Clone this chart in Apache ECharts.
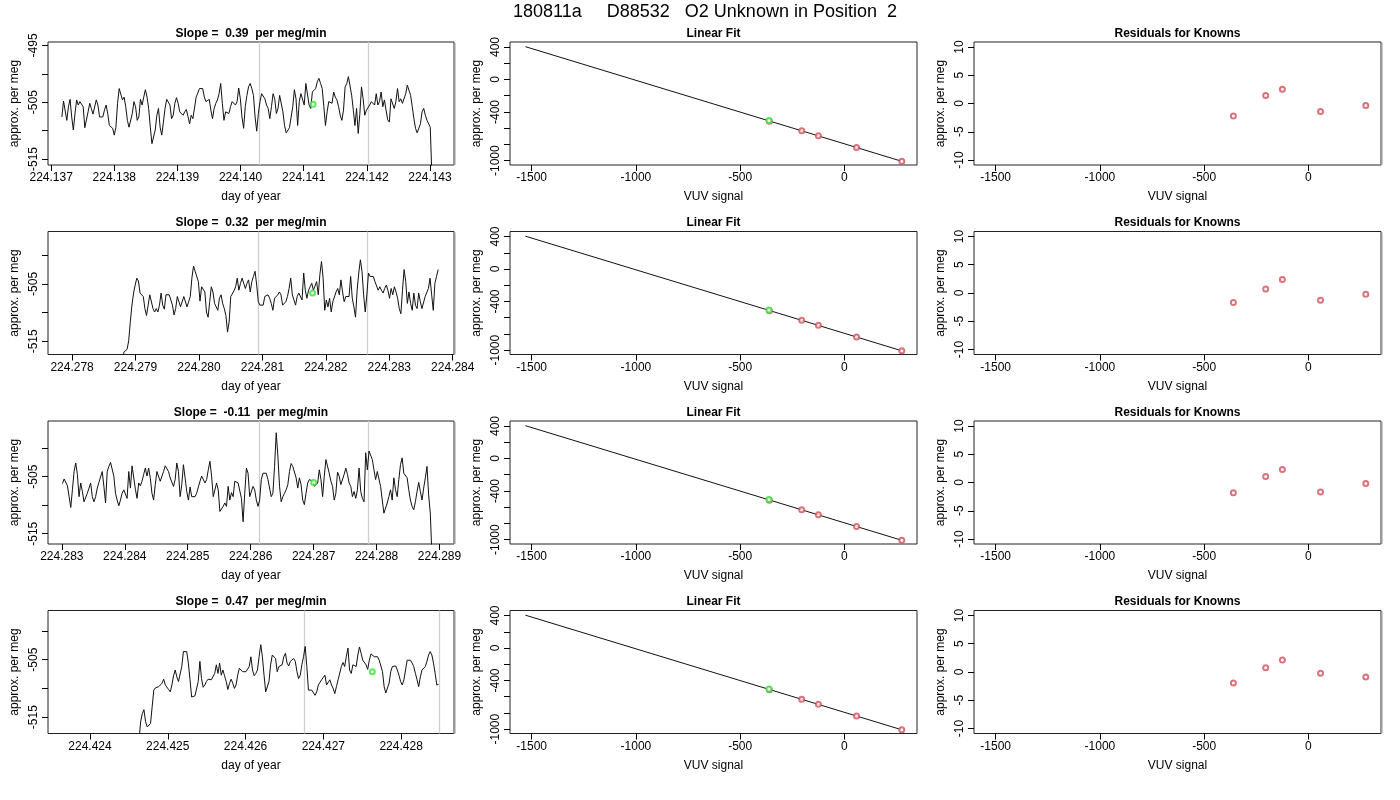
<!DOCTYPE html>
<html><head><meta charset="utf-8">
<script src="https://cdn.jsdelivr.net/npm/echarts@6/dist/echarts.min.js"></script>
<style>html,body{margin:0;padding:0;background:#fff}#c{width:1400px;height:800px}</style>
</head><body><div id="c"></div>
<script>
// ---------------- data ----------------
const mainTitle = '180811a     D88532   O2 Unknown in Position  2';
const slopeLabels = ['0.39', '0.32', '-0.11', '0.47'];
const tsXName = 'day of year';
const fitXName = 'VUV signal';
const yName = 'approx. per meg';

const vals1 = [
-507.6,-504.8,-504.9,-508.2,-505.8,-504.5,-507.6,-509.9,-507.0,-504.6,
-505.5,-504.9,-504.6,-505.8,-509.5,-509.6,-506.7,-505.2,-506.1,-507.1,
-507.3,-504.6,-505.5,-507.6,-507.3,-507.6,-506.4,-505.5,-507.0,-509.1,
-509.2,-509.6,-510.8,-509.4,-505.2,-502.6,-502.9,-504.6,-504.1,-505.8,
-508.2,-509.4,-509.1,-507.0,-504.9,-505.8,-508.2,-507.6,-504.5,-505.5,
-504.1,-502.8,-504.1,-506.1,-509.4,-512.3,-512.6,-509.9,-507.3,-506.1,
-509.4,-510.8,-508.5,-506.1,-504.5,-504.4,-505.5,-507.9,-507.3,-505.2,
-504.2,-505.2,-506.7,-507.0,-507.3,-506.7,-506.3,-507.5,-508.8,-507.3,
-507.9,-507.6,-504.1,-503.4,-502.6,-502.4,-502.6,-504.1,-504.9,-504.6,
-504.5,-506.4,-507.9,-506.1,-505.2,-504.6,-503.5,-501.7,-505.2,-508.2,
-506.7,-506.4,-507.0,-505.8,-504.9,-504.6,-505.5,-504.9,-502.5,-504.4,
-507.6,-509.6,-505.8,-503.8,-502.3,-501.7,-502.6,-503.8,-507.6,-510.1,
-507.0,-504.9,-503.5,-503.4,-504.4,-505.5,-506.1,-507.9,-505.8,-503.5,
-504.4,-507.0,-506.1,-503.8,-504.1,-506.7,-509.1,-510.4,-510.1,-509.5,
-509.2,-505.8,-502.8,-504.4,-509.1,-504.9,-503.5,-503.8,-505.5,-501.7,
-501.6,-505.5,-506.1,-503.2,-502.9,-502.6,-501.4,-500.8,-501.7,-502.6,
-505.8,-509.1,-506.7,-504.9,-504.6,-505.2,-503.2,-504.1,-504.6,-505.8,
-507.3,-508.2,-506.4,-502.3,-501.7,-500.5,-500.8,-503.8,-506.4,-509.1,
-506.1,-510.5,-507.0,-502.3,-504.4,-507.3,-506.4,-506.7,-505.5,-504.9,
-504.6,-505.5,-503.5,-505.5,-504.9,-503.2,-505.8,-504.6,-506.4,-508.1,
-508.5,-504.4,-504.6,-506.1,-504.9,-502.6,-504.9,-504.4,-505.2,-504.9,
-503.5,-502.0,-501.7,-503.8,-505.8,-507.9,-509.6,-510.4,-510.5,-508.8,
-506.7,-506.1,-507.3,-508.2,-508.5,-509.4,-518
];
const vals2 = [
-520,-516.9,-516.8,-516.4,-514.9,-511.6,-508.7,-506.6,-505.2,-504.0,-504.5,
-506.6,-506.9,-507.2,-509.3,-510.5,-508.7,-506.9,-506.9,-509.3,-509.9,
-509.3,-509.9,-508.7,-506.6,-508.7,-509.4,-506.9,-506.6,-506.9,-507.2,
-508.7,-510.4,-509.3,-507.2,-507.5,-509.0,-508.7,-507.2,-507.5,-509.0,
-508.1,-507.2,-504.0,-501.9,-502.8,-502.5,-504.6,-508.0,-505.5,-505.2,
-506.4,-509.9,-510.8,-508.1,-505.5,-506.4,-508.4,-508.7,-509.6,-507.5,
-506.9,-508.4,-509.3,-510.5,-513.4,-511.6,-507.2,-507.5,-506.2,-505.5,
-504.0,-506.1,-504.9,-504.0,-503.7,-505.8,-504.9,-504.3,-506.4,-504.6,
-503.7,-502.8,-505.2,-508.1,-508.7,-509.0,-508.7,-507.2,-507.2,-506.9,
-507.5,-508.4,-509.6,-507.5,-507.2,-506.9,-506.4,-506.9,-508.7,-509.0,
-508.1,-507.2,-505.8,-504.0,-506.9,-507.2,-508.7,-507.2,-506.6,-506.6,
-507.8,-503.1,-506.1,-507.5,-506.1,-505.5,-504.9,-506.1,-505.8,-504.6,
-506.9,-503.4,-501.1,-504.0,-509.6,-507.8,-509.0,-507.5,-509.9,-508.1,
-507.8,-506.4,-505.8,-506.9,-504.3,-506.4,-508.1,-507.2,-507.5,-507.2,
-503.7,-507.5,-509.0,-510.8,-506.1,-503.1,-500.8,-502.8,-506.9,-509.9,
-506.9,-503.1,-503.7,-504.0,-503.7,-504.6,-504.9,-506.1,-505.5,-506.1,
-506.6,-505.8,-505.2,-506.1,-507.5,-505.8,-506.9,-505.5,-506.4,-507.5,
-509.3,-510.2,-506.1,-502.5,-504.6,-508.4,-506.4,-508.4,-509.6,-506.6,
-508.7,-509.3,-506.6,-508.1,-509.3,-509.0,-507.2,-506.9,-505.8,-504.0,
-506.9,-509.6,-504.9,-503.7,-502.5
];
const vals3 = [
-506.2,-505.4,-505.6,-506.6,-508.5,-510.4,-507.3,-504.1,-502.6,-504.6,
-508.5,-506.1,-507.6,-509.4,-509.4,-507.9,-507.0,-506.1,-508.5,-509.4,
-508.5,-507.0,-506.0,-505.8,-504.1,-506.7,-509.6,-504.1,-503.2,-502.5,
-502.6,-504.9,-507.9,-509.1,-510.1,-509.1,-507.9,-507.3,-507.6,-508.8,
-504.1,-507.0,-503.1,-502.9,-507.2,-508.8,-506.1,-506.6,-505.8,-504.6,
-503.5,-504.9,-503.5,-505.2,-507.9,-509.1,-506.4,-504.1,-503.8,-505.8,
-505.6,-504.1,-503.1,-502.9,-504.1,-505.2,-505.4,-506.7,-505.5,-502.6,
-504.1,-508.5,-506.4,-502.9,-505.2,-507.6,-509.1,-506.8,-508.5,-508.8,
-508.5,-507.9,-506.8,-505.8,-504.9,-504.6,-506.1,-505.5,-503.8,-502.3,
-504.9,-508.5,-508.5,-506.1,-507.3,-511.1,-511.1,-510.2,-509.6,-510.2,
-506.7,-509.1,-507.8,-508.5,-505.8,-505.6,-506.1,-505.8,-508.8,-512.9,
-507.9,-503.5,-504.4,-508.5,-508.2,-506.7,-507.3,-509.1,-510.2,-509.1,
-505.5,-504.4,-504.1,-504.4,-505.5,-505.5,-508.5,-507.9,-503.2,-497.3,
-501.4,-506.7,-509.4,-508.5,-507.9,-507.3,-506.4,-504.1,-502.7,-503.2,
-503.5,-505.2,-507.0,-505.2,-506.4,-509.1,-509.9,-507.9,-506.1,-505.5,
-505.8,-505.8,-506.7,-507.0,-506.1,-503.8,-505.5,-508.5,-504.9,-502.0,
-502.0,-504.4,-505.8,-506.7,-509.1,-507.9,-504.2,-504.9,-506.4,-506.7,
-504.6,-503.5,-504.6,-506.1,-506.7,-508.5,-507.6,-508.8,-507.3,-503.5,
-507.6,-508.8,-509.4,-500.8,-503.8,-500.5,-500.8,-502.0,-503.8,-505.5,
-504.1,-504.1,-506.7,-509.1,-511.4,-511.1,-509.6,-508.5,-507.3,-509.1,
-505.2,-507.3,-508.5,-505.5,-502.9,-501.7,-504.4,-504.1,-505.2,-507.3,
-509.1,-510.2,-510.8,-509.4,-507.6,-506.0,-507.6,-509.1,-507.0,-505.2,
-503.2,-508.2,-511.4,-519
];
const vals4 = [
-519,
-515.8,-514.4,-513.7,-515.8,-516.7,-516.7,-516.1,-513.2,-510.3,-509.9,
-509.8,-509.7,-509.4,-509.1,-508.4,-509.4,-509.7,-510.2,-510.6,-509.4,
-507.8,-506.8,-508.0,-508.8,-508.5,-506.2,-503.6,-503.4,-503.6,-505.6,
-508.5,-511.5,-511.2,-511.3,-511.5,-508.8,-505.3,-508.3,-509.8,-509.4,
-508.8,-508.4,-508.1,-508.5,-508.4,-507.4,-505.9,-507.4,-505.6,-507.7,
-506.8,-507.8,-508.8,-510.2,-509.1,-508.4,-509.1,-510.0,-509.4,-507.7,
-506.5,-506.8,-507.1,-507.1,-507.1,-507.1,-506.2,-504.5,-506.8,-507.8,
-507.4,-506.8,-504.5,-502.4,-504.5,-507.7,-510.6,-510.6,-508.8,-505.9,
-504.2,-504.2,-504.8,-507.1,-506.2,-506.5,-505.9,-504.5,-503.9,-505.6,
-506.1,-505.3,-505.1,-504.8,-505.3,-507.1,-508.3,-507.7,-505.9,-504.5,
-502.7,-506.2,-510.3,-510.0,-510.3,-510.0,-511.2,-510.6,-509.4,-509.4,
-508.5,-508.3,-507.7,-509.4,-509.1,-508.5,-509.4,-510.0,-510.9,-509.7,
-508.5,-508.3,-506.2,-505.5,-506.2,-504.5,-503.0,-506.8,-507.4,-505.9,
-505.6,-506.2,-504.2,-502.8,-503.9,-505.1,-505.3,-505.9,-506.7,-505.1,
-504.0,-504.2,-504.5,-504.8,-504.5,-505.1,-505.3,-507.1,-509.7,-510.8,
-510.9,-509.1,-507.1,-506.2,-506.5,-506.1,-506.8,-507.7,-508.8,-509.4,
-508.5,-506.8,-505.1,-504.8,-505.1,-505.6,-506.2,-507.4,-508.5,-509.7,
-508.0,-506.8,-506.5,-506.2,-505.3,-504.2,-503.6,-504.2,-505.6,-507.4,
-509.4,-509.3
];
// sample time span of each record (regularly sampled)
const tStart = [224.13717, 224.27879, 224.28301, 224.42463];
const tEnd   = [224.14303, 224.28377, 224.28888, 224.42848];
const greyLines = [[224.14029, 224.14202], [224.28093, 224.28266], [224.28613, 224.28787], [224.42676, 224.42849]];
const greenT = [224.14115, 224.28179, 224.28700, 224.42763];
const greenV = [-505.35, -506.6, -506.0, -507.1];

const tsXTicks = [
  [224.137, 224.138, 224.139, 224.140, 224.141, 224.142, 224.143],
  [224.278, 224.279, 224.280, 224.281, 224.282, 224.283, 224.284],
  [224.283, 224.284, 224.285, 224.286, 224.287, 224.288, 224.289],
  [224.424, 224.425, 224.426, 224.427, 224.428]
];
const tsYTicks = [[-515, -510, -505, -500, -495], [-515, -510, -505, -500], [-515, -510, -505, -500], [-515, -510, -505, -500]];
const tsYLabels = [[-515, -505, -495], [-515, -505], [-515, -505], [-515, -505]];

const knownX = [-360, -205, -125, 58, 275];
const knownY = [-512.7, -630.3, -691.8, -838.9, -1007.5];
const unknownX = -362;
const unknownY = -506;
const fitLineX = [-1530, 272];
const fitLineY = [404, -1005];
const fitXTicks = [-1500, -1000, -500, 0];
const fitYTicks = [-1000, -800, -600, -400, -200, 0, 200, 400];
const fitYLabels = [-1000, -400, 0, 400];

const resid = [
  [-2.2, 1.4, 2.5, -1.4, -0.35],
  [-1.7, 0.7, 2.4, -1.3, -0.2],
  [-1.83, 1.06, 2.3, -1.66, -0.18],
  [-1.94, 0.77, 2.12, -0.24, -0.88]
];
const residYTicks = [-10, -5, 0, 5, 10];

// ---------------- layout ----------------
const FONT = 'Liberation Sans, Arial, Helvetica, sans-serif';
const colLeft = [48, 510, 974];
const colWidth = [406, 407, 407];
const rowTop = [42, 231.5, 421, 610.5];
const rowH = 123;
const tsXRange = [[224.13695, 224.14338], [224.27762, 224.28402], [224.28278, 224.28923], [224.42346, 224.42868]];
const tsYRange = [[-516.06, -494.4], [-517.3, -495.87], [-516.8, -495.24], [-517.84, -496.46]];
const RED = '#d2505a';
const GREEN = '#33e633';

const grids = [], xAxes = [], yAxes = [], series = [], graphics = [];

function xAxis(gi, min, max, ticks, labels, fmt, name) {
  return {
    type: 'value', gridIndex: gi, min: min, max: max, scale: true, position: 'bottom',
    axisLine: { show: false, onZero: false },
    splitLine: { show: false },
    axisTick: { show: true, length: 6, customValues: ticks, lineStyle: { color: '#000', width: 1 } },
    axisLabel: { show: true, customValues: labels, formatter: fmt, margin: 7, fontSize: 12, color: '#000', fontFamily: FONT, hideOverlap: false },
    name: name, nameLocation: 'middle', nameGap: 26,
    nameTextStyle: { fontSize: 12, color: '#000', fontFamily: FONT }
  };
}
function yAxis(gi, min, max, ticks, labels) {
  return {
    type: 'value', gridIndex: gi, min: min, max: max, scale: true, position: 'left',
    axisLine: { show: false, onZero: false },
    splitLine: { show: false },
    axisTick: { show: true, length: 6, customValues: ticks, lineStyle: { color: '#000', width: 1 } },
    axisLabel: { show: true, customValues: labels, rotate: 90, formatter: v => String(Math.round(v)), margin: 8, fontSize: 12, color: '#000', fontFamily: FONT, hideOverlap: false },
    name: yName, nameLocation: 'middle', nameGap: 27, nameRotate: 90,
    nameTextStyle: { fontSize: 12, color: '#000', fontFamily: FONT }
  };
}
function title(text, x, y, size, bold) {
  graphics.push({
    type: 'text', x: x, y: y, silent: true,
    style: { text: text, fill: '#000', font: (bold ? 'bold ' : '') + size + 'px ' + FONT, textAlign: 'center', textVerticalAlign: 'middle' }
  });
}
function greyEdge(c, r) {
  const x = colLeft[c] + colWidth[c] + 0.5;
  graphics.push({
    type: 'line', silent: true, z: 10,
    shape: { x1: x, y1: rowTop[r] + 1, x2: x, y2: rowTop[r] + rowH },
    style: { stroke: '#9a9a9a', lineWidth: 2 }
  });
}

const allVals = [vals1, vals2, vals3, vals4];
title(mainTitle, 705, 12, 18, false);

for (let r = 0; r < 4; r++) {
  for (let c = 0; c < 3; c++) {
    grids.push({ left: colLeft[c], top: rowTop[r], width: colWidth[c], height: rowH, show: true, borderColor: '#222', borderWidth: 1, backgroundColor: 'transparent', containLabel: false });
  }
  const gTs = r * 3, gFit = r * 3 + 1, gRes = r * 3 + 2;
  xAxes.push(xAxis(gTs, tsXRange[r][0], tsXRange[r][1], tsXTicks[r], tsXTicks[r], v => v.toFixed(3), tsXName));
  yAxes.push(yAxis(gTs, tsYRange[r][0], tsYRange[r][1], tsYTicks[r], tsYLabels[r]));
  xAxes.push(xAxis(gFit, -1604, 348, fitXTicks, fitXTicks, v => String(Math.round(v)), fitXName));
  yAxes.push(yAxis(gFit, -1053, 461.7, fitYTicks, fitYLabels));
  xAxes.push(xAxis(gRes, -1604, 348, fitXTicks, fitXTicks, v => String(Math.round(v)), fitXName));
  yAxes.push(yAxis(gRes, -10.88, 10.88, residYTicks, residYTicks));

  const vals = allVals[r];
  const n = vals.length;
  const pts = vals.map((v, i) => [tStart[r] + (tEnd[r] - tStart[r]) * i / (n - 1), v]);

  series.push({
    type: 'line', xAxisIndex: gTs, yAxisIndex: gTs, data: pts, showSymbol: false, symbol: 'none', clip: true,
    lineStyle: { color: '#111', width: 1 }, z: 3, silent: true,
    markLine: { silent: true, symbol: ['none', 'none'], label: { show: false }, animation: false, precision: 6, z: 1,
      lineStyle: { color: '#cfcfcf', type: 'solid', width: 1.3 },
      emphasis: { disabled: true },
      data: greyLines[r].map(v => ({ xAxis: v })) }
  });
  series.push({
    type: 'scatter', xAxisIndex: gTs, yAxisIndex: gTs, data: [[greenT[r], greenV[r]]], symbol: 'emptyCircle', symbolSize: 5,
    itemStyle: { color: GREEN, borderColor: GREEN, borderWidth: 0.9 }, z: 4, silent: true
  });

  series.push({
    type: 'line', xAxisIndex: gFit, yAxisIndex: gFit, data: fitLineX.map((x, i) => [x, fitLineY[i]]), showSymbol: false, symbol: 'none',
    lineStyle: { color: '#111', width: 1 }, z: 2, silent: true
  });
  series.push({
    type: 'scatter', xAxisIndex: gFit, yAxisIndex: gFit, data: knownX.map((x, i) => [x, knownY[i]]), symbol: 'emptyCircle', symbolSize: 5,
    itemStyle: { color: RED, borderColor: RED, borderWidth: 0.8 }, z: 3, silent: true
  });
  series.push({
    type: 'scatter', xAxisIndex: gFit, yAxisIndex: gFit, data: [[unknownX, unknownY]], symbol: 'emptyCircle', symbolSize: 5,
    itemStyle: { color: GREEN, borderColor: GREEN, borderWidth: 1.3 }, z: 4, silent: true
  });

  series.push({
    type: 'scatter', xAxisIndex: gRes, yAxisIndex: gRes, data: knownX.map((x, i) => [x, resid[r][i]]), symbol: 'emptyCircle', symbolSize: 5,
    itemStyle: { color: RED, borderColor: RED, borderWidth: 0.8 }, z: 3, silent: true
  });

  const ty = rowTop[r] - 8.5;
  title('Slope =  ' + slopeLabels[r] + '  per meg/min', colLeft[0] + colWidth[0] / 2, ty, 12, true);
  title('Linear Fit', colLeft[1] + colWidth[1] / 2, ty, 12, true);
  title('Residuals for Knowns', colLeft[2] + colWidth[2] / 2, ty, 12, true);
  greyEdge(0, r);
  greyEdge(2, r);
}

const chart = echarts.init(document.getElementById('c'), null, { renderer: 'canvas' });
chart.setOption({
  animation: false,
  backgroundColor: '#fff',
  textStyle: { fontFamily: FONT },
  grid: grids, xAxis: xAxes, yAxis: yAxes, series: series,
  graphic: { elements: graphics }
});
</script></body></html>
